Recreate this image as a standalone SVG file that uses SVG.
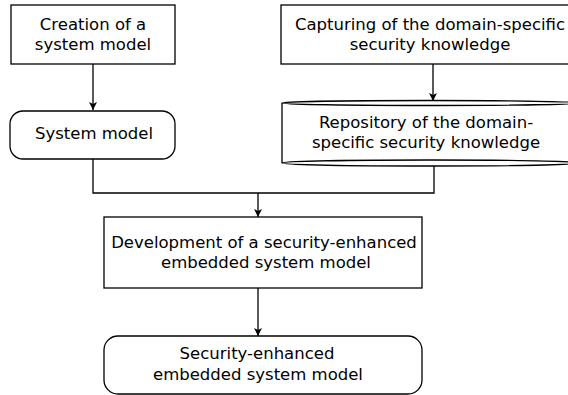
<svg xmlns="http://www.w3.org/2000/svg" width="568" height="395" viewBox="0 0 568 395">
  <defs>
    <marker id="arrow" viewBox="0 0 8 12" refX="8" refY="6" markerWidth="8" markerHeight="12" markerUnits="userSpaceOnUse" orient="auto">
      <path d="M0,2 L8,6 L0,10 L2,6 Z" fill="#000"/>
    </marker>
  </defs>
  <style>
    .shape { fill: #fff; stroke: #000; stroke-width: 1.3; }
    .label { font-family: "DejaVu Sans", sans-serif; font-size: 16.5px; fill: #000; text-anchor: middle; }
    .conn { fill: none; stroke: #000; stroke-width: 1.3; }
  </style>
  <rect width="568" height="395" fill="#fff"/>

  <g id="connectors">
    <line class="conn" x1="93" y1="64" x2="93" y2="110" marker-end="url(#arrow)"/>
    <line class="conn" x1="433" y1="64" x2="433" y2="101" marker-end="url(#arrow)"/>
    <polyline class="conn" points="93,159 93,193 434,193 434,166"/>
    <line class="conn" x1="258" y1="193" x2="258" y2="217" marker-end="url(#arrow)"/>
    <line class="conn" x1="258" y1="288" x2="258" y2="336" marker-end="url(#arrow)"/>
  </g>

  <g id="create-model">
    <rect class="shape" x="11" y="5" width="164" height="59"/>
    <text class="label" x="93" y="30">Creation of a</text>
    <text class="label" x="93" y="50">system model</text>
  </g>

  <g id="system-model">
    <rect class="shape" x="10" y="111" width="165" height="48" rx="13" ry="13"/>
    <text class="label" x="94" y="139">System model</text>
  </g>

  <g id="capture-knowledge">
    <rect class="shape" x="281" y="5" width="300" height="59"/>
    <text class="label" x="430" y="30">Capturing of the domain-specific</text>
    <text class="label" x="430" y="50">security knowledge</text>
  </g>

  <g id="repository">
    <path class="shape" d="M282,103 A148,2.5 0 0 1 578,103 L578,163 A148,3 0 0 1 282,163 Z"/>
    <path class="conn" d="M282,103 A148,2.5 0 0 0 578,103"/>
    <path class="conn" d="M282,163 A148,3 0 0 1 578,163"/>
    <text class="label" x="426" y="128">Repository of the domain-</text>
    <text class="label" x="426" y="148">specific security knowledge</text>
  </g>

  <g id="develop-model">
    <rect class="shape" x="104" y="217" width="318" height="71"/>
    <text class="label" x="264" y="248">Development of a security-enhanced</text>
    <text class="label" x="266" y="268">embedded system model</text>
  </g>

  <g id="enhanced-model">
    <rect class="shape" x="104" y="336" width="318" height="58" rx="14" ry="14"/>
    <text class="label" x="257" y="359">Security-enhanced</text>
    <text class="label" x="258" y="380">embedded system model</text>
  </g>
</svg>
